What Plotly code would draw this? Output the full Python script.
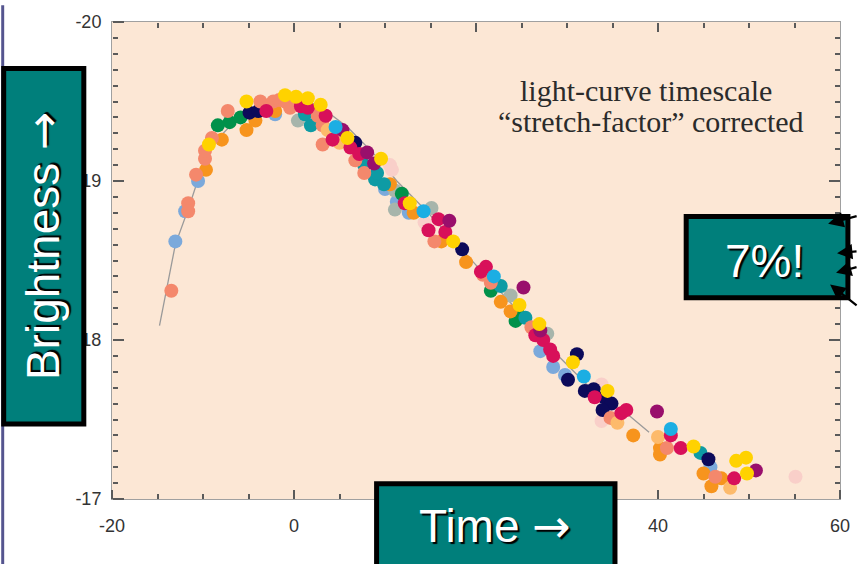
import plotly.graph_objects as go

# ---- data: days from peak (stretch-corrected) and peak-normalised magnitude ----
template_t = [-14.78, -13.04, -11.52, -10.43, -8.80, -6.09, -2.83, -0.11, 2.61, 5.87,
              9.13, 11.30, 14.57, 18.91, 24.35, 28.70, 33.04, 36.30, 39.02]
template_mag = [-18.09, -18.60, -18.84, -19.03, -19.24, -19.40, -19.48, -19.51, -19.48, -19.34,
                -19.15, -19.00, -18.81, -18.54, -18.20, -17.92, -17.67, -17.55, -17.42]

orange_t = [-9.67, -7.93, -5.22, -4.24, -2.07, 1.74, 10.54, 13.15, 16.20, 18.91, 22.72, 23.80,
            37.28, 40.22, 40.22, 45.00, 46.96, 45.87]
orange_mag = [-19.07, -19.26, -19.32, -19.38, -19.44, -19.44, -18.98, -18.80, -18.62, -18.49, -18.24, -18.18,
              -17.40, -17.32, -17.28, -17.16, -17.13, -17.08]

salmon_t = [-13.48, -11.63, -11.63, -10.76, -9.78, -9.78, -9.02, -7.28, -3.70, -2.28, -1.63, -0.98,
            -0.43, 0.11, 2.61, 3.15, 3.15, 4.78, 6.74, 7.72, 15.43, 20.76, 21.63, 26.09, 34.78,
            40.98, 46.30]
salmon_mag = [-18.31, -18.86, -18.81, -19.04, -19.14, -19.19, -19.27, -19.44, -19.50, -19.50, -19.51, -19.50,
              -19.46, -19.51, -19.41, -19.35, -19.23, -19.26, -19.13, -19.05, -18.62, -18.41, -18.36, -18.08, -17.51,
              -17.32, -17.14]

yellow_t = [-9.35, -5.22, -0.98, 0.22, 1.52, 2.93, 5.87, 9.57, 12.72, 17.50, 24.78, 26.96, 30.65,
            34.46, 43.91, 48.59, 49.67, 49.78]
yellow_mag = [-19.23, -19.50, -19.54, -19.53, -19.52, -19.48, -19.27, -19.14, -18.86, -18.62, -18.22, -18.10, -17.86,
              -17.68, -17.33, -17.24, -17.26, -17.16]

green_t = [-8.37, -7.07, -5.87, 11.85, 21.63, 24.57, 24.35]
green_mag = [-19.35, -19.37, -19.40, -18.92, -18.31, -18.17, -18.12]

navy_t = [-4.89, -3.90, 6.74, 18.48, 31.09, 30.11, 31.96, 32.93, 34.13, 34.89, 33.91, 45.54]
navy_mag = [-19.43, -19.44, -19.24, -18.57, -17.91, -17.75, -17.68, -17.69, -17.64, -17.60, -17.56, -17.25]

crimson_t = [-3.04, 0.76, 1.52, 3.48, 4.24, 6.20, 7.17, 12.17, 15.87, 14.78, 16.63, 21.09, 20.54,
             26.52, 27.39, 28.15, 28.48, 33.04, 35.98, 36.52, 41.41, 42.50, 48.37]
crimson_mag = [-19.44, -19.47, -19.46, -19.41, -19.26, -19.21, -19.17, -18.86, -18.76, -18.69, -18.68, -18.46, -18.43,
               -18.03, -18.00, -17.94, -17.90, -17.64, -17.54, -17.56, -17.40, -17.32, -17.13]

purple_t = [5.33, 8.04, 8.80, 17.07, 25.22, 27.07, 39.89, 50.76]
purple_mag = [-19.32, -19.18, -19.11, -18.75, -18.33, -18.06, -17.55, -17.18]

teal_t = [1.20, 1.85, 7.72, 8.91, 9.89, 9.13, 22.72, 25.43, 44.67]
teal_mag = [-19.42, -19.35, -19.10, -19.01, -18.98, -19.05, -18.34, -18.14, -17.29]

lightblue_t = [-13.04, -11.96, -10.54, -2.07, 10.00, 11.30, 12.61, 27.07, 28.48, 29.78, 45.76]
lightblue_mag = [-18.62, -18.81, -19.00, -19.42, -18.95, -18.87, -18.80, -17.93, -17.83, -17.78, -17.20]

skyblue_t = [4.57, 14.24, 21.96, 31.85, 41.41]
skyblue_mag = [-19.34, -18.81, -18.40, -17.77, -17.44]

gray_t = [0.43, 11.09, 11.09, 15.11, 23.80, 27.83]
gray_mag = [-19.38, -18.94, -18.82, -18.83, -18.28, -18.04]

pink_t = [10.54, 10.76, 14.35, 33.80, 33.80, 55.11]
pink_mag = [-19.10, -19.07, -18.74, -17.72, -17.49, -17.14]

lightorange_t = [3.70, 5.00, 35.54, 40.00, 47.93]
lightorange_mag = [-19.32, -19.24, -17.48, -17.39, -17.07]

# tick labels as printed on the axes (the "20" day label sits under the Time banner)
x_tick_vals = [-20, 0, 20, 40, 60]
x_tick_text = ["-20", "0", "", "40", "60"]
y_tick_vals = [-20, -19, -18, -17]
y_tick_text = ["-20", "19", "18", "-17"]
x_minor_step = 5
y_minor_step = 0.1

groups = [
    (lightblue_t, lightblue_mag, "#7BA9DB"),
    (gray_t, gray_mag, "#A7B5AB"),
    (pink_t, pink_mag, "#F9CFC9"),
    (green_t, green_mag, "#00914A"),
    (orange_t, orange_mag, "#F7941D"),
    (teal_t, teal_mag, "#0E9BA4"),
    (navy_t, navy_mag, "#0C0A5A"),
    (salmon_t, salmon_mag, "#F4886C"),
    (lightorange_t, lightorange_mag, "#FDBA6B"),
    (crimson_t, crimson_mag, "#D8105A"),
    (purple_t, purple_mag, "#990F6C"),
    (skyblue_t, skyblue_mag, "#1CAEE3"),
    (yellow_t, yellow_mag, "#FFD200"),
]

# ---- page geometry ----
W, H = 862, 564
ML, MR, MT, MB = 112, 14, 12, 65
PW, PH = W - ML - MR, H - MT - MB


def fx(px):
    return (px - ML) / PW


def fy(py):
    return (H - MB - py) / PH


fig = go.Figure()

fig.add_trace(go.Scatter(x=template_t, y=template_mag, mode="lines",
                         line=dict(color="#9a9a9a", width=1.3), hoverinfo="skip"))
for t, m, c in groups:
    fig.add_trace(go.Scatter(x=t, y=m, mode="markers",
                             marker=dict(size=14, color=c, line=dict(width=0))))

tick_font = dict(family="Liberation Sans, Arial, sans-serif", size=18, color="#333333")
frame = dict(showgrid=False, zeroline=False, showline=True, linecolor="#a0a0a0", linewidth=1)
mark = dict(tickcolor="#5a5a5a", tickwidth=1.5, showticklabels=False, showgrid=False,
            zeroline=False, showline=False)
x_range = [-20, 60]
y_range = [-17, -20]

x_major = dict(range=x_range, overlaying="x", tickmode="array", tickvals=x_tick_vals, ticklen=9, **mark)
x_fine = dict(range=x_range, overlaying="x", tickmode="linear", tick0=x_range[0], dtick=x_minor_step,
              ticklen=5, **mark)
y_major = dict(range=y_range, overlaying="y", tickmode="array", tickvals=y_tick_vals, ticklen=11, **mark)
y_fine = dict(range=y_range, overlaying="y", tickmode="linear", tick0=y_range[1], dtick=y_minor_step,
              ticklen=5, **mark)

fig.update_layout(
    # labelled axes (frame + labels only)
    xaxis=dict(range=x_range, tickmode="array", tickvals=x_tick_vals, ticktext=x_tick_text,
               ticks="", tickfont=tick_font, ticklabelstandoff=10, mirror=True, **frame),
    yaxis=dict(range=y_range, tickmode="array", tickvals=y_tick_vals, ticktext=y_tick_text,
               ticks="", tickfont=tick_font, ticklabelstandoff=6, mirror=True, **frame),
    # tick marks along every edge, each pointing into the plot
    yaxis2=dict(side="right", anchor="free", position=1, ticks="inside", **y_major),
    yaxis3=dict(side="right", anchor="free", position=1, ticks="inside", **y_fine),
    yaxis4=dict(side="right", anchor="free", position=0, ticks="outside", **y_major),
    yaxis5=dict(side="right", anchor="free", position=0, ticks="outside", **y_fine),
    xaxis2=dict(side="top", anchor="free", position=1, ticks="inside", **x_major),
    xaxis3=dict(side="top", anchor="free", position=1, ticks="inside", **x_fine),
    xaxis4=dict(side="top", anchor="free", position=0, ticks="outside", **x_major),
    xaxis5=dict(side="top", anchor="free", position=0, ticks="outside", **x_fine),
)

# empty traces that bring up the tick-mark axes
for ya in ["y2", "y3", "y4", "y5"]:
    fig.add_trace(go.Scatter(x=[None], y=[None], xaxis="x", yaxis=ya, hoverinfo="skip", mode="markers"))
for xa in ["x2", "x3", "x4", "x5"]:
    fig.add_trace(go.Scatter(x=[None], y=[None], xaxis=xa, yaxis="y", hoverinfo="skip", mode="markers"))

teal = "#007F7B"
shapes = [
    # slate edge strip
    dict(type="rect", xref="paper", yref="paper", x0=fx(0), x1=fx(3), y0=fy(H + 5), y1=fy(-5),
         fillcolor="#55558F", line=dict(width=0), layer="above"),
    # Brightness box
    dict(type="rect", xref="paper", yref="paper", x0=fx(2.5), x1=fx(83.5), y0=fy(422.5), y1=fy(59.5),
         fillcolor=teal, line=dict(color="black", width=5), layer="above"),
    # Time box
    dict(type="rect", xref="paper", yref="paper", x0=fx(379.5), x1=fx(620.5), y0=fy(575), y1=fy(483.5),
         fillcolor=teal, line=dict(color="black", width=5), layer="above"),
    # 7% box
    dict(type="rect", xref="paper", yref="paper", x0=fx(692.5), x1=fx(856), y0=fy(293.5), y1=fy(210.5),
         fillcolor=teal, line=dict(color="black", width=5), layer="above"),
]

big_font = dict(family="Liberation Sans, Arial, sans-serif", size=46, color="white",
                shadow="2px 2px 1px #000000")
serif_font = dict(family="Liberation Serif, Times New Roman, serif", size=30, color="#2b2b2b")
arrow = "<span style='font-family:DejaVu Sans'>\u2192</span>"

annotations = [
    dict(text="light-curve timescale", x=fx(652), y=fy(82), xref="paper", yref="paper",
         showarrow=False, font=serif_font, xanchor="center", yanchor="middle"),
    dict(text="\u201cstretch-factor\u201d corrected", x=fx(657), y=fy(114), xref="paper", yref="paper",
         showarrow=False, font=serif_font, xanchor="center", yanchor="middle"),
    dict(text="Brightness " + arrow, x=fx(43), y=fy(240), xref="paper", yref="paper", textangle=-90,
         showarrow=False, font=big_font, xanchor="center", yanchor="middle"),
    dict(text="Time " + arrow, x=fx(499), y=fy(527), xref="paper", yref="paper",
         showarrow=False, font=big_font, xanchor="center", yanchor="middle"),
    dict(text="7%!", x=fx(772), y=fy(256), xref="paper", yref="paper",
         showarrow=False, font=big_font, xanchor="center", yanchor="middle"),
]

# pointer arrows entering the 7% box from the right
for tip_x, tip_y, tail_x, tail_y in [(836, 218, 866, 210), (845, 248, 866, 246),
                                     (844, 268, 866, 262), (838, 280, 866, 302)]:
    annotations.append(dict(text="", x=fx(tip_x), y=fy(tip_y), xref="paper", yref="paper",
                            ax=tail_x - tip_x, ay=tail_y - tip_y, showarrow=True,
                            arrowhead=2, arrowsize=1.4, arrowwidth=2.2, arrowcolor="black"))

fig.update_layout(
    width=W, height=H, margin=dict(l=ML, r=MR, t=MT, b=MB, pad=0),
    paper_bgcolor="white", plot_bgcolor="#FCE7D5",
    showlegend=False, shapes=shapes, annotations=annotations,
)

fig.write_html("out.html")
